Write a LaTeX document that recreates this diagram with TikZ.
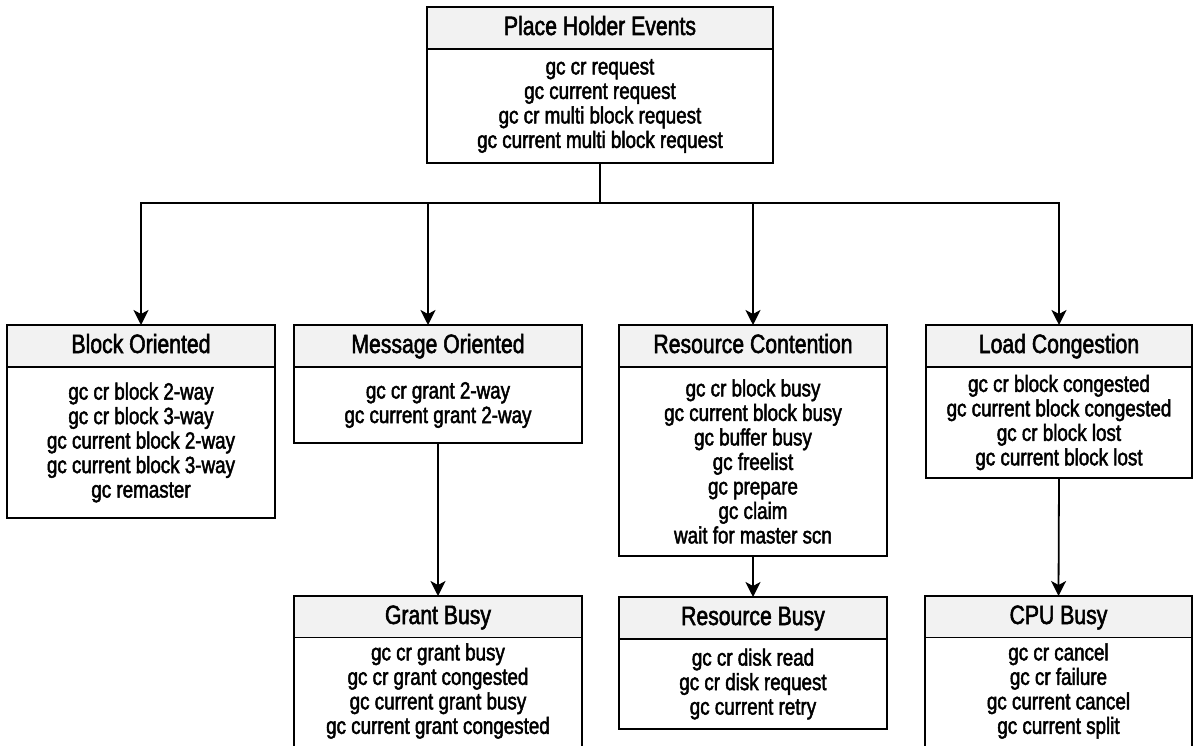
\documentclass[tikz,border=0pt]{standalone}
\usepackage{fontspec}
\setmainfont{Liberation Sans}[FakeStretch=0.8, FakeBold=2]
\usetikzlibrary{arrows.meta}
\definecolor{hdrgray}{HTML}{F2F2F2}
\tikzset{
  hdr/.style={draw=black, line width=1.8pt, fill=hdrgray, minimum height=42pt, inner sep=0pt,
    outer sep=0pt, anchor=north west, text height=19pt, text depth=5pt,
    font=\fontsize{26.5}{30}\selectfont},
  bdy/.style={draw=black, line width=1.8pt, fill=white, inner sep=0pt, outer sep=0pt, anchor=north,
    align=center, font=\fontsize{23.5}{24.5}\selectfont},
  openbdy/.style={bdy, draw=none},
  wire/.style={line width=1.8pt},
  conn/.style={line width=1.8pt, -{Stealth[length=15pt,width=15pt,inset=4pt]}},
}
\begin{document}
\begin{tikzpicture}[x=1pt,y=-1pt]
\useasboundingbox (0,0) rectangle (1197,746);
\clip (0,0) rectangle (1197,746);
\fill[white] (0,0) rectangle (1197,746);

% top box
\node[hdr, minimum width=346pt] (topH) at (427,7) {Place Holder Events};
\node[bdy, minimum width=346pt, minimum height=114pt] (topB) at (topH.south)
  {gc cr request\\gc current request\\gc cr multi block request\\gc current multi block request};

% level 2
\node[hdr, minimum width=268pt] (blkH) at (7,325) {Block Oriented};
\node[bdy, minimum width=268pt, minimum height=151pt] (blkB) at (blkH.south)
  {gc cr block 2-way\\gc cr block 3-way\\gc current block 2-way\\gc current block 3-way\\gc remaster};

\node[hdr, minimum width=288pt] (msgH) at (294,325) {Message Oriented};
\node[bdy, minimum width=288pt, minimum height=76pt] (msgB) at (msgH.south)
  {gc cr grant 2-way\\gc current grant 2-way};

\node[hdr, minimum width=268pt] (rcH) at (619,325) {Resource Contention};
\node[bdy, minimum width=268pt, minimum height=189pt] (rcB) at (rcH.south)
  {gc cr block busy\\gc current block busy\\gc buffer busy\\gc freelist\\gc prepare\\gc claim\\wait for master scn};

\node[hdr, minimum width=266pt] (ldH) at (926,325) {Load Congestion};
\node[bdy, minimum width=266pt, minimum height=111pt] (ldB) at (ldH.south)
  {gc cr block congested\\gc current block congested\\gc cr block lost\\gc current block lost};

% level 3
\node[hdr, minimum width=288pt] (gbH) at (294,596) {Grant Busy};
\node[openbdy, minimum width=288pt, minimum height=106pt] (gbB) at (gbH.south)
  {gc cr grant busy\\gc cr grant congested\\gc current grant busy\\gc current grant congested};
\draw[wire] (gbB.north west) -- ++(0,140);
\draw[wire] (gbB.north east) -- ++(0,140);

\node[hdr, minimum width=268pt] (rbH) at (619,597) {Resource Busy};
\node[bdy, minimum width=268pt, minimum height=90pt] (rbB) at (rbH.south)
  {gc cr disk read\\gc cr disk request\\gc current retry};

\node[hdr, minimum width=267pt] (cpuH) at (925,596) {CPU Busy};
\node[openbdy, minimum width=267pt, minimum height=106pt] (cpuB) at (cpuH.south)
  {gc cr cancel\\gc cr failure\\gc current cancel\\gc current split};
\draw[wire] (cpuB.north west) -- ++(0,140);
\draw[wire] (cpuB.north east) -- ++(0,140);

% connectors
\draw[wire] (topB.south) -- ++(0,40) coordinate (br);
\draw[conn] (br) -| (blkH.north);
\draw[conn] (br) -| ([xshift=-10pt]msgH.north);
\draw[conn] (br) -| (rcH.north);
\draw[conn] (br) -| (ldH.north);
\draw[conn] (msgB.south) -- (gbH.north);
\draw[conn] (rcB.south) -- (rbH.north);
\draw[conn] (ldB.south) -- (cpuH.north);
\end{tikzpicture}
\end{document}
